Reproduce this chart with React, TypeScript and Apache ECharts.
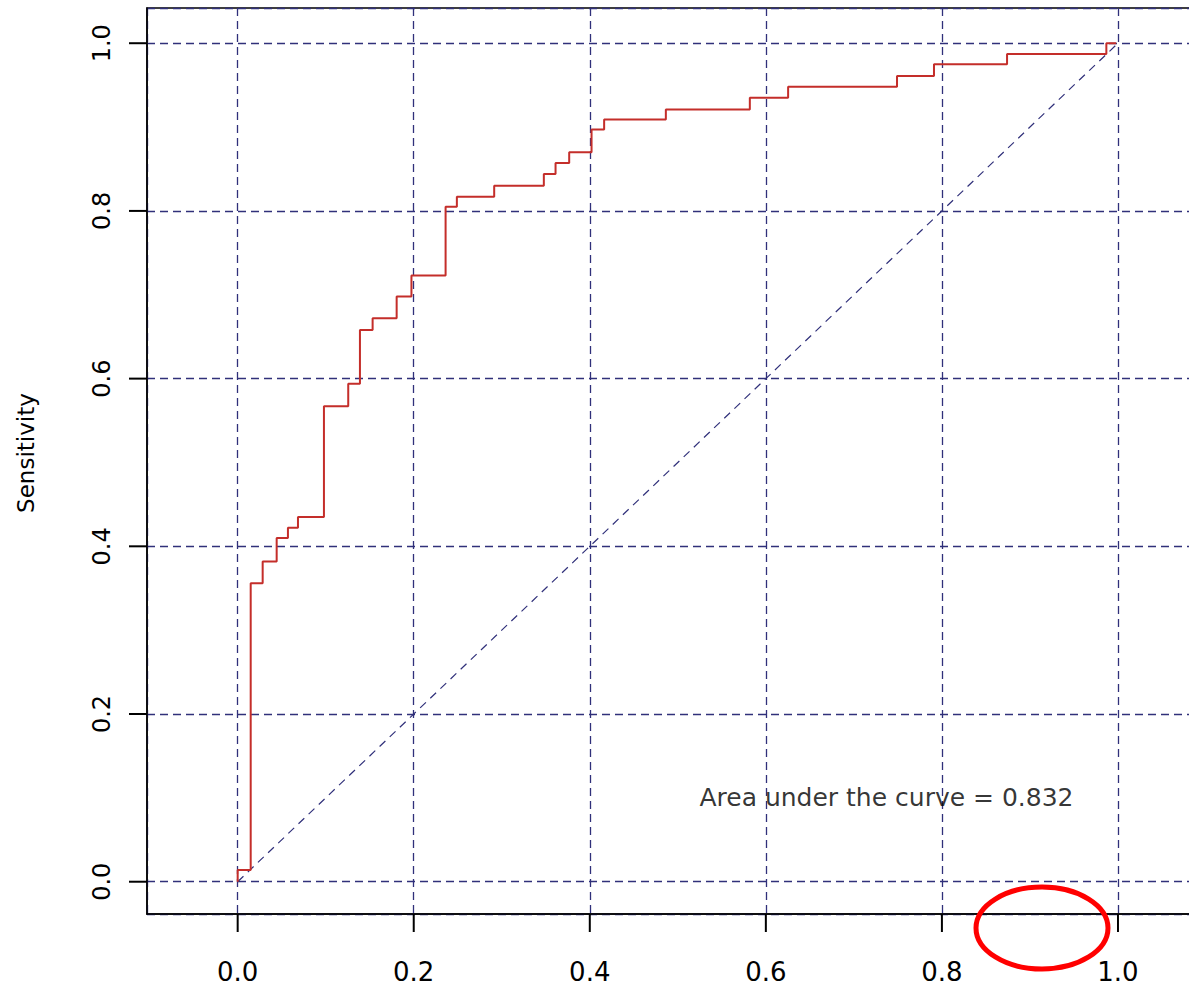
import React, { useEffect, useRef } from "react";
import * as echarts from "echarts";

// ROC curve step vertices (1 - specificity, sensitivity)
const fpr = [0, 0, 0.0148, 0.0284, 0.0443, 0.0571, 0.0685, 0.098, 0.1256, 0.1389, 0.1533, 0.1806, 0.1974, 0.2362, 0.249, 0.2914, 0.3478, 0.3611, 0.3766, 0.402, 0.4163, 0.4864, 0.5818, 0.6253, 0.749, 0.791, 0.874, 0.9868, 0.998];
const tpr = [0, 0.014, 0.356, 0.382, 0.41, 0.422, 0.435, 0.567, 0.594, 0.658, 0.672, 0.698, 0.723, 0.805, 0.817, 0.83, 0.844, 0.857, 0.87, 0.897, 0.909, 0.921, 0.935, 0.948, 0.961, 0.975, 0.987, 1.0, 1.0];
const diagonal = [[0, 0], [1, 1]];
const tickValues = [0, 0.2, 0.4, 0.6, 0.8, 1.0];
const xRange = [-0.103, 1.1];
const yRange = [-0.0385, 1.042];
const yTitle = "Sensitivity";
const aucText = "Area under the curve = 0.832";
const aucPos = [0.737, 0.1];

const NAVY = "#30307a";
const FONT = "DejaVu Sans";
const TICK_LEN = 18;

export default function App() {
  const ref = useRef<HTMLDivElement>(null);
  useEffect(() => {
    if (!ref.current) return;
    const chart = echarts.init(ref.current, undefined, { renderer: "svg" });
    const axisCommon = {
      type: "value" as const,
      axisLine: { show: true, onZero: false, lineStyle: { color: "#000", width: 1.5 } },
      axisTick: { show: false },
      splitLine: {
        show: true,
        lineStyle: { color: NAVY, width: 1.3, type: [8, 5] as any },
      },
    };
    chart.setOption({
      animation: false,
      backgroundColor: "#fff",
      grid: {
        left: 147,
        top: 8,
        width: 1059,
        height: 906,
        show: true,
        borderColor: "#000",
        borderWidth: 1.5,
        backgroundColor: "transparent",
      },
      xAxis: {
        ...axisCommon,
        min: xRange[0],
        max: xRange[1],
        axisLabel: {
          customValues: tickValues,
          formatter: (v: number) => v.toFixed(1),
          fontFamily: FONT,
          fontSize: 26,
          color: "#000",
          margin: 45,
        },
      },
      yAxis: {
        ...axisCommon,
        min: yRange[0],
        max: yRange[1],
        axisLabel: {
          customValues: tickValues,
          formatter: (v: number) => v.toFixed(1),
          fontFamily: FONT,
          fontSize: 24,
          color: "#000",
          rotate: 90,
          margin: 33,
        },
      },
      series: [
        {
          type: "line",
          data: diagonal,
          symbol: "none",
          lineStyle: { color: NAVY, width: 1.2, type: [8, 6] as any },
          z: 2,
        },
        {
          type: "line",
          step: "end",
          data: fpr.map((x, i) => [x, tpr[i]]),
          symbol: "none",
          lineStyle: { color: "#c42e2a", width: 2 },
          z: 3,
        },
        {
          type: "scatter",
          data: [aucPos],
          symbolSize: 0,
          label: {
            show: true,
            position: "inside",
            formatter: aucText,
            fontFamily: FONT,
            fontSize: 25,
            color: "#000",
          },
          z: 4,
        },
        {
          // x-axis tick marks below the frame
          type: "scatter",
          clip: false,
          silent: true,
          data: tickValues.map((v) => [v, yRange[0]]),
          symbol: "rect",
          symbolSize: [2, TICK_LEN],
          symbolOffset: [0, TICK_LEN / 2],
          itemStyle: { color: "#000", opacity: 1 },
          z: 20,
        },
        {
          // y-axis tick marks left of the frame
          type: "scatter",
          clip: false,
          silent: true,
          data: tickValues.map((v) => [xRange[0], v]),
          symbol: "rect",
          symbolSize: [TICK_LEN, 2],
          symbolOffset: [-TICK_LEN / 2, 0],
          itemStyle: { color: "#000", opacity: 1 },
          z: 20,
        },
      ],
    });

    const graphics: any[] = [
      {
        type: "text",
        x: 26,
        y: 453,
        rotation: Math.PI / 2,
        style: {
          text: yTitle,
          fontFamily: FONT,
          fontSize: 23,
          fill: "#000",
          textAlign: "center",
          textVerticalAlign: "middle",
        },
      },
      {
        type: "ellipse",
        shape: { cx: 1042, cy: 928, rx: 66, ry: 41 },
        style: { fill: "none", stroke: "#ff0000", lineWidth: 5 },
        z: 100,
      },
    ];
    chart.setOption({ graphic: graphics });

    return () => chart.dispose();
  }, []);
  return (
    <div style={{ position: "absolute", left: 0, top: 0, width: 1189, height: 988, overflow: "hidden" }}>
      <div ref={ref} style={{ width: 1240, height: 988 }} />
    </div>
  );
}
